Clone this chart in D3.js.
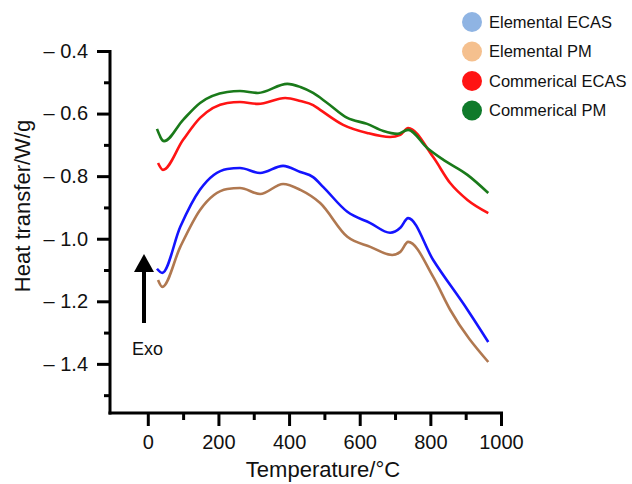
<!DOCTYPE html>
<html><head><meta charset="utf-8">
<script src="https://cdn.jsdelivr.net/npm/d3@7"></script>
<style>body{margin:0;background:#fff}svg{display:block;font-family:"Liberation Sans",Arial,sans-serif}</style>
</head><body><svg id="c" width="632" height="484"></svg>
<script>
const seriesNames = ["Elemental ECAS","Elemental PM","Commerical ECAS","Commerical PM"];
const legendColors = ["#8fb4e3","#f5c08e","#ff1414","#0f7a2a"];
const lineColors = ["#1414ff","#b07850","#ff1414","#1a7a1a"];

const elecasT = [26,41,92,148,225,261,318,383,432,468,497,565,630,686,715,737,808,905,964];
const elecasV = [-1.096,-1.109,-0.962,-0.843,-0.777,-0.774,-0.790,-0.767,-0.787,-0.803,-0.835,-0.914,-0.950,-0.981,-0.965,-0.934,-1.068,-1.227,-1.330];
const elpmT = [29,41,92,148,225,261,318,383,432,488,565,630,692,715,737,808,856,964];
const elpmV = [-1.132,-1.154,-1.026,-0.908,-0.841,-0.838,-0.857,-0.825,-0.844,-0.886,-0.994,-1.026,-1.052,-1.042,-1.010,-1.122,-1.227,-1.394];
const comecasT = [29,43,100,148,225,261,312,389,432,468,488,553,621,686,715,737,808,856,905,964];
const comecasV = [-0.758,-0.780,-0.684,-0.614,-0.566,-0.563,-0.569,-0.550,-0.560,-0.573,-0.588,-0.636,-0.662,-0.675,-0.668,-0.646,-0.739,-0.822,-0.876,-0.918];
const compmT = [26,46,100,148,225,261,312,395,432,468,508,565,621,667,706,737,791,837,905,964];
const compmV = [-0.649,-0.688,-0.620,-0.566,-0.531,-0.528,-0.534,-0.505,-0.515,-0.534,-0.566,-0.614,-0.633,-0.656,-0.665,-0.652,-0.710,-0.748,-0.796,-0.854];

const xMajor = [0,200,400,600,800,1000];
const xMinor = [100,300,500,700,900];
const yMajor = [-0.4,-0.6,-0.8,-1.0,-1.2,-1.4];
const yMinor = [-0.5,-0.7,-0.9,-1.1,-1.3,-1.5];

const svg = d3.select("#c");
const x = d3.scaleLinear().domain([-107,1000]).range([110,501]);
const y = d3.scaleLinear().domain([-1.557,-0.4]).range([413,51]);

const series = [[elecasT,elecasV],[elpmT,elpmV],[comecasT,comecasV],[compmT,compmV]];
const line = d3.line().x(d=>x(d[0])).y(d=>y(d[1])).curve(d3.curveMonotoneX);
series.forEach((s,i)=>{
  const pts = s[0].map((t,j)=>[t,s[1][j]]);
  svg.append("path").attr("d",line(pts)).attr("fill","none")
    .attr("stroke",lineColors[i]).attr("stroke-width",2.6).attr("stroke-linejoin","round");
});

// Y axis
const yAx = svg.append("g").attr("transform","translate(110,0)");
yAx.call(d3.axisLeft(y).tickValues(yMajor).tickSize(13).tickPadding(9)
  .tickFormat(d=>"\u2013 "+Math.abs(d).toFixed(1)));
yAx.call(g=>g.select(".domain").remove());
yAx.selectAll(".tick line").attr("stroke","#000").attr("stroke-width",3);
yAx.selectAll(".tick text").attr("font-size",20).attr("font-family","Liberation Sans, Arial").attr("fill","#111");
const yAx2 = svg.append("g").attr("transform","translate(110,0)");
yAx2.call(d3.axisLeft(y).tickValues(yMinor).tickSize(6).tickFormat(""));
yAx2.select(".domain").remove();
yAx2.selectAll(".tick line").attr("stroke","#000").attr("stroke-width",3);
svg.append("line").attr("x1",110).attr("x2",110).attr("y1",y(-0.4)-1).attr("y2",414.5)
  .attr("stroke","#000").attr("stroke-width",3);

// X axis
const xAx = svg.append("g").attr("transform","translate(0,413)");
xAx.call(d3.axisBottom(x).tickValues(xMajor).tickSize(13).tickPadding(9).tickFormat(d3.format("d")));
xAx.select(".domain").remove();
xAx.selectAll(".tick line").attr("stroke","#000").attr("stroke-width",3);
xAx.selectAll(".tick text").attr("font-size",20).attr("font-family","Liberation Sans, Arial").attr("fill","#111");
const xAx2 = svg.append("g").attr("transform","translate(0,413)");
xAx2.call(d3.axisBottom(x).tickValues(xMinor).tickSize(7).tickFormat(""));
xAx2.select(".domain").remove();
xAx2.selectAll(".tick line").attr("stroke","#000").attr("stroke-width",3);
svg.append("line").attr("x1",108.5).attr("x2",503).attr("y1",413).attr("y2",413)
  .attr("stroke","#000").attr("stroke-width",3);

// Titles
svg.append("text").attr("x",323).attr("y",477).attr("text-anchor","middle")
  .attr("font-size",22).attr("fill","#111").text("Temperature/\u00B0C");
svg.append("text").attr("transform","translate(30,206) rotate(-90)").attr("text-anchor","middle")
  .attr("font-size",22).attr("fill","#111").text("Heat transfer/W/g");

// Exo arrow
svg.append("line").attr("x1",144).attr("x2",144).attr("y1",323).attr("y2",268)
  .attr("stroke","#000").attr("stroke-width",4);
svg.append("path").attr("d","M134,272 L144,254 L154,272 Z").attr("fill","#000");
svg.append("text").attr("x",132).attr("y",355).attr("font-size",18).attr("fill","#111").text("Exo");

// Legend
const leg = svg.append("g");
seriesNames.forEach((n,i)=>{
  const cy = 22 + i*29.5;
  leg.append("circle").attr("cx",472).attr("cy",cy).attr("r",10).attr("fill",legendColors[i]);
  leg.append("text").attr("x",489).attr("y",cy).attr("dy","0.35em").attr("font-size",16.5)
    .attr("fill","#111").text(n);
});
</script></body></html>
